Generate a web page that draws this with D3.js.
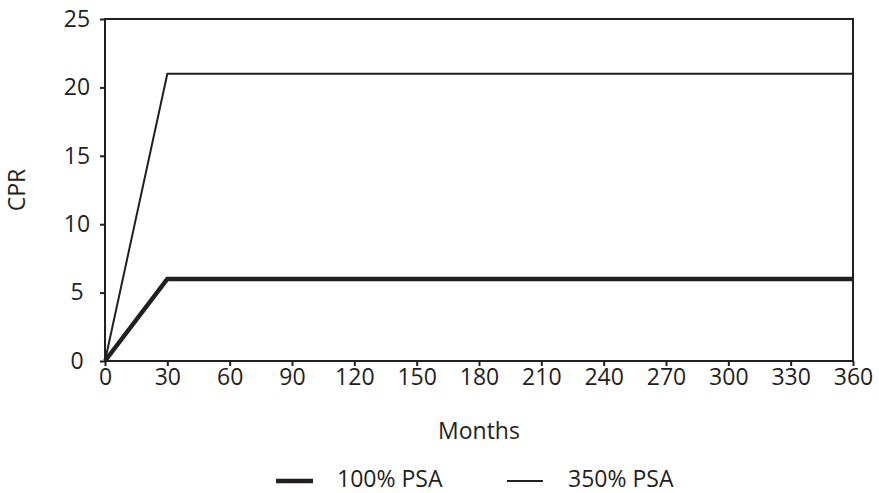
<!DOCTYPE html>
<html><head><meta charset="utf-8">
<script src="https://cdn.jsdelivr.net/npm/d3@7"></script>
<style>body{margin:0;background:#fff;} svg{display:block;}</style>
</head><body>
<script>
const months = [0, 30, 360];
const psa100 = [0, 6, 6];
const psa350 = [0, 21, 21];
const xTicks = [0,30,60,90,120,150,180,210,240,270,300,330,360];
const yTicks = [0,5,10,15,20,25];
const seriesNames = ["100% PSA", "350% PSA"];

const W = 879, H = 493;
const m = {l:105, r:26, t:19, b:132};
const ink = "#231f20";
const font = "'Open Sans', sans-serif";
const fs = "23px";
const svg = d3.select("body").append("svg").attr("width", W).attr("height", H);
const x = d3.scaleLinear().domain([0,360]).range([m.l, W - m.r]);
const y = d3.scaleLinear().domain([0,25]).range([H - m.b, m.t]);

// frame
svg.append("rect").attr("x", x(0)).attr("y", y(25)).attr("width", x(360)-x(0)).attr("height", y(0)-y(25))
  .attr("fill","none").attr("stroke", ink).attr("stroke-width", 2);

const xa = svg.append("g").attr("transform", `translate(0,${y(0)})`)
  .call(d3.axisBottom(x).tickValues(xTicks).tickSize(5).tickPadding(3).tickFormat(d3.format("d")));
const ya = svg.append("g").attr("transform", `translate(${x(0)},0)`)
  .call(d3.axisLeft(y).tickValues(yTicks).tickSize(5).tickFormat(d3.format("d")));
[xa, ya].forEach(g => {
  g.select(".domain").remove();
  g.selectAll("line").attr("stroke", ink).attr("stroke-width", 2);
  g.selectAll("text").attr("fill", ink).style("font-family", font).style("font-size", fs);
});
ya.selectAll("text").attr("text-anchor", "middle").attr("x", 77 - x(0));

const line = d3.line().x((d,i)=>x(months[i])).y(d=>y(d));
svg.append("path").datum(psa350).attr("d", line).attr("fill","none").attr("stroke", ink).attr("stroke-width", 2);
svg.append("path").datum(psa100).attr("d", line).attr("fill","none").attr("stroke", ink).attr("stroke-width", 4.5);

svg.append("text").attr("x", (x(0)+x(360))/2).attr("y", 439).attr("text-anchor","middle")
  .attr("fill", ink).style("font-family", font).style("font-size",fs).text("Months");
svg.append("text").attr("transform", `translate(25,${(y(0)+y(25))/2}) rotate(-90)`).attr("text-anchor","middle")
  .attr("fill", ink).style("font-family", font).style("font-size",fs).text("CPR");

// legend
const leg = [{name:seriesNames[0], x1:276, x2:313, tx:337, w:4.5},{name:seriesNames[1], x1:507, x2:543, tx:568, w:2}];
leg.forEach(l => {
  svg.append("line").attr("x1", l.x1).attr("x2", l.x2).attr("y1", 481).attr("y2", 481).attr("stroke", ink).attr("stroke-width", l.w);
  svg.append("text").attr("x", l.tx).attr("y", 487).attr("fill", ink).style("font-family", font).style("font-size",fs).text(l.name);
});
</script>
</body></html>
